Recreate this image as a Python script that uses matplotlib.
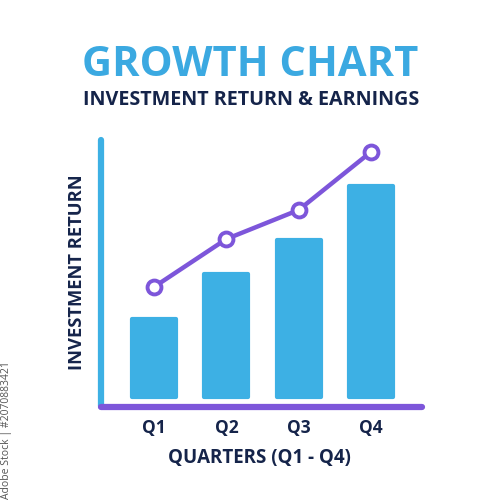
import matplotlib
matplotlib.use("Agg")
import matplotlib.pyplot as plt
from matplotlib.lines import Line2D

quarters = ["Q1", "Q2", "Q3", "Q4"]
bar_values = [37.0, 58.0, 74.0, 99.5]
line_values = [51.9, 74.5, 88.2, 115.6]

title = "GROWTH CHART"
subtitle = "INVESTMENT RETURN & EARNINGS"
ylabel = "INVESTMENT RETURN"
xlabel = "QUARTERS (Q1 - Q4)"
credit = "Adobe Stock | #2070883421"

BLUE = "#3DB0E4"
TITLE_BLUE = "#3BA9E1"
PURPLE = "#7D56DA"
NAVY = "#15244A"

plt.rcParams["font.family"] = ["Open Sans", "DejaVu Sans"]

fig = plt.figure(figsize=(5, 5), dpi=100)
fig.patch.set_facecolor("white")
ax = fig.add_axes([0.202, 0.186, 0.642, 0.534])
ax.set_xlim(-0.733, 3.705)
ax.set_ylim(-4.7, 121.2)
for s in ax.spines.values():
    s.set_visible(False)
ax.set_xticks([])
ax.set_yticks([])
ax.patch.set_alpha(0)

x = list(range(len(quarters)))
ax.bar(x, bar_values, width=0.61, color=BLUE, edgecolor=BLUE,
       linewidth=3, joinstyle="round", zorder=2)

ax.plot(x, line_values, color=PURPLE, lw=3.2, marker="o", markersize=10,
        markerfacecolor="white", markeredgecolor=PURPLE, markeredgewidth=2.8,
        zorder=3, solid_capstyle="round")

# axis lines
ax.add_line(Line2D([0, 0], [0.005, 1.0], transform=ax.transAxes, color=BLUE,
                   lw=4.5, solid_capstyle="round", clip_on=False, zorder=4))
ax.add_line(Line2D([0, 1], [0.0, 0.0], transform=ax.transAxes, color=PURPLE,
                   lw=4.5, solid_capstyle="round", clip_on=False, zorder=5))

for xi, q in zip(x, quarters):
    ax.text(xi, -0.08, q, transform=ax.get_xaxis_transform(), ha="center",
            va="center", fontsize=12.5, fontweight="bold", color=NAVY)

fig.text(0.519, 0.083, xlabel, ha="center", va="center", fontsize=13.5,
         fontweight="bold", color=NAVY)
fig.text(0.154, 0.456, ylabel, ha="center", va="center", rotation=90,
         fontsize=13.2, fontweight="bold", color=NAVY)

fig.text(0.5, 0.87, title, ha="center", va="center", fontsize=30,
         fontweight="bold", color=TITLE_BLUE)
fig.text(0.502, 0.80, subtitle, ha="center", va="center", fontsize=14.2,
         fontweight="bold", color=NAVY)

fig.text(0.013, 0.14, credit, ha="center", va="center", rotation=90,
         fontsize=7.5, color="#555555")

fig.savefig("out.png", dpi=100, facecolor="white")
